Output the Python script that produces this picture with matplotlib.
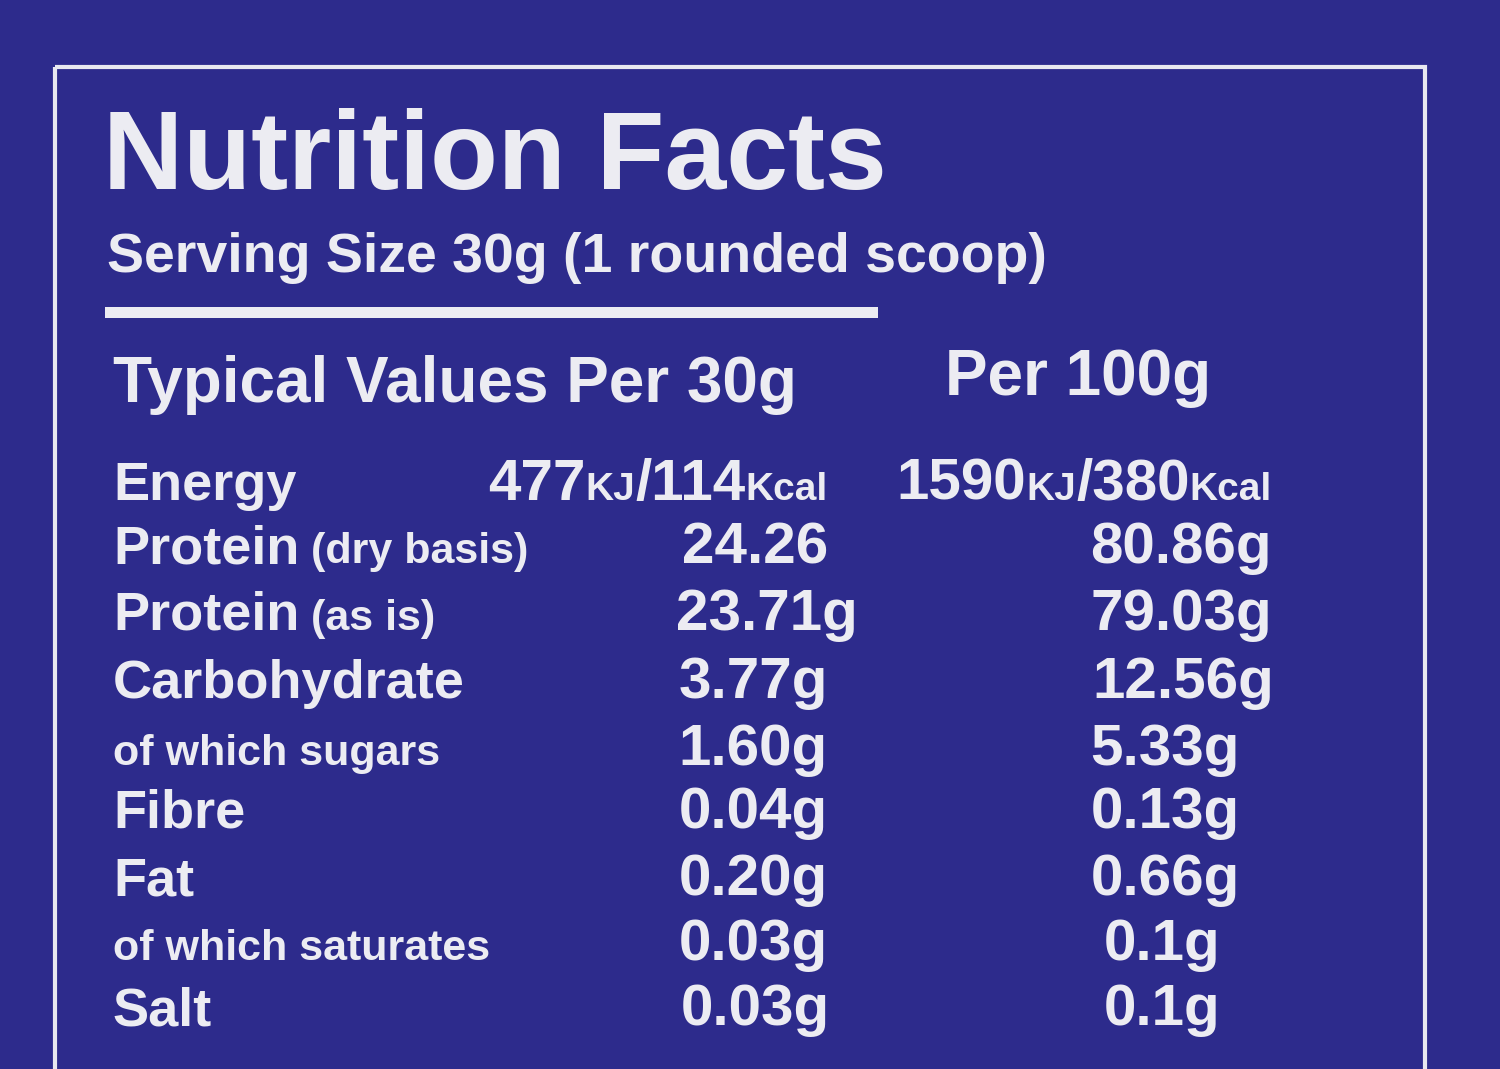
import matplotlib
matplotlib.use("Agg")
import matplotlib.pyplot as plt
from matplotlib.patches import Rectangle

title = "Nutrition Facts"
serving = "Serving Size 30g (1 rounded scoop)"
header = ["Typical Values Per 30g", "Per 100g"]
labels = [[("Energy", False)],
          [("Protein", False), (" (dry basis)", True)],
          [("Protein", False), (" (as is)", True)],
          [("Carbohydrate", False)],
          [("of which sugars", True)],
          [("Fibre", False)],
          [("Fat", False)],
          [("of which saturates", True)],
          [("Salt", False)]]
per30 = [[("477", False), ("KJ", True), ("/114", False), ("Kcal", True)],
         [("24.26", False)], [("23.71g", False)], [("3.77g", False)], [("1.60g", False)],
         [("0.04g", False)], [("0.20g", False)], [("0.03g", False)], [("0.03g", False)]]
per100 = [[("1590", False), ("KJ", True), ("/380", False), ("Kcal", True)],
          [("80.86g", False)], [("79.03g", False)], [("12.56g", False)], [("5.33g", False)],
          [("0.13g", False)], [("0.66g", False)], [("0.1g", False)], [("0.1g", False)]]

row_y = [480, 543, 610, 678, 745, 808, 875, 940, 1005]
x30 = [828, 828, 858, 828, 828, 828, 828, 828, 830]
x100 = [1272, 1272, 1272, 1274, 1240, 1240, 1240, 1220, 1220]

W, H = 1500, 1069
bg = "#2d2b8c"
fig = plt.figure(figsize=(15, 10.69), dpi=100)
fig.patch.set_facecolor(bg)
ax = fig.add_axes([0, 0, 1, 1])
ax.set_xlim(0, W); ax.set_ylim(H, 0); ax.axis("off")
ax.set_facecolor(bg)
ax.add_patch(Rectangle((55, 67), 1370, 1100, fill=False, ec="#e8e8f0", lw=3))
ax.add_patch(Rectangle((105, 307), 773, 11, fc="#ececf2", ec="none"))

fam = "Liberation Sans"
col = "#ececf2"
fig.canvas.draw()
r = fig.canvas.get_renderer()

def width(t):
    return t.get_window_extent(renderer=r).width

def pieces(parts, x, y, big, small, align="left"):
    texts = []
    for s, sm in parts:
        t = ax.text(0, y, s, fontsize=small if sm else big, color=col, family=fam,
                    fontweight="bold", va="baseline")
        texts.append(t)
    ws = [width(t) for t in texts]
    start = x if align == "left" else x - sum(ws)
    for t, w in zip(texts, ws):
        t.set_x(start); start += w

ax.text(103, 189, title, fontsize=80, fontweight="bold", color=col, family=fam, va="baseline")
ax.text(107, 272, serving, fontsize=40, fontweight="bold", color=col, family=fam, va="baseline")
ax.text(113, 402, header[0], fontsize=46, fontweight="bold", color=col, family=fam, va="baseline")
ax.text(945, 395, header[1], fontsize=46, fontweight="bold", color=col, family=fam, va="baseline")

for i, y in enumerate(row_y):
    yb = y + 20
    pieces(labels[i], 113, yb, 39, 31)
    pieces(per30[i], x30[i], yb, 42, 28, "right")
    pieces(per100[i], x100[i], yb, 42, 28, "right")

fig.savefig("out.png", dpi=100, facecolor=fig.get_facecolor())
